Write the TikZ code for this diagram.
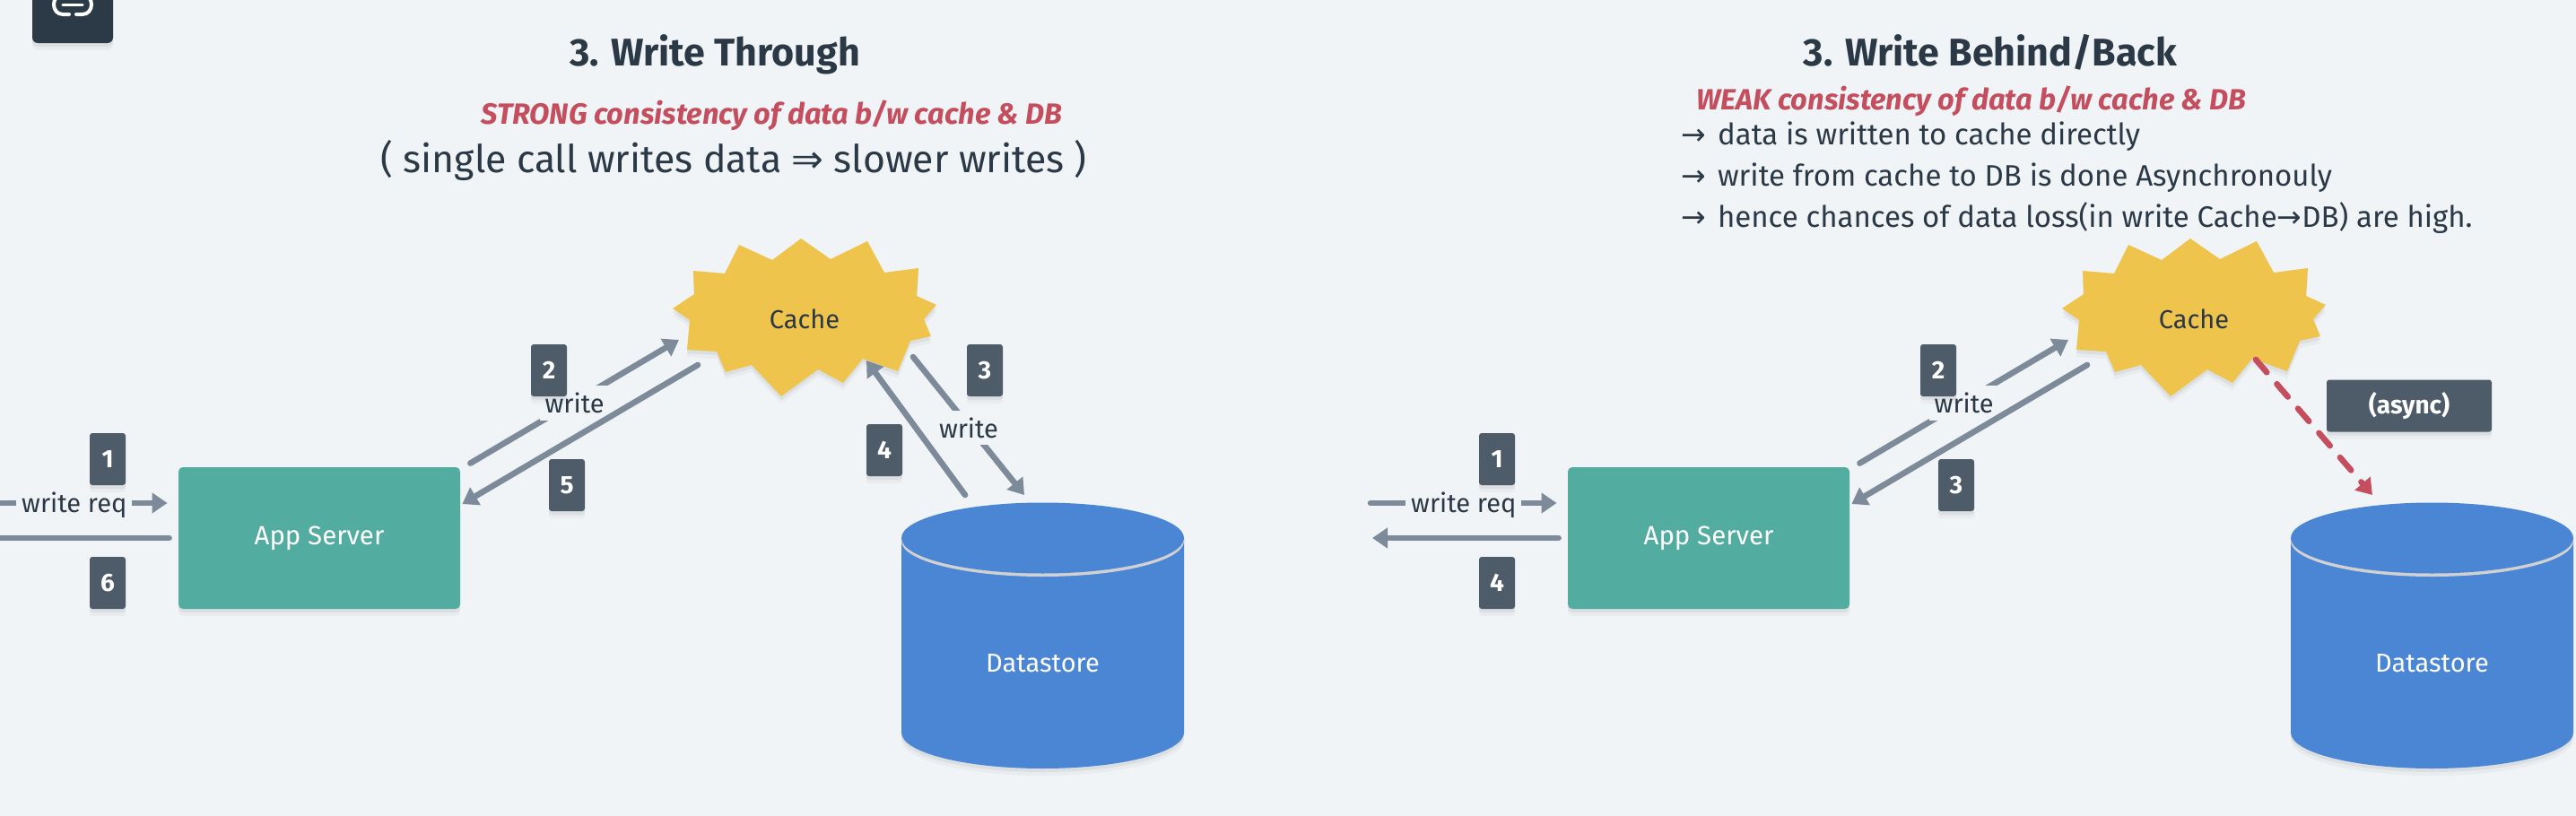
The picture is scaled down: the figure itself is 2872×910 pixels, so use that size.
\documentclass[tikz,border=0pt]{standalone}
\usepackage{fontspec}
\setmainfont{Fira Sans}
\newfontfamily\symfont{DejaVu Sans}
\usetikzlibrary{arrows.meta,shadows}
\definecolor{pagebg}{HTML}{F0F4F7}
\definecolor{inkdark}{HTML}{2B3846}
\definecolor{tabdark}{HTML}{2C3A47}
\definecolor{badgegray}{HTML}{4E5B69}
\definecolor{linegray}{HTML}{7D8A99}
\definecolor{weakred}{HTML}{C44E5E}
\definecolor{appteal}{HTML}{52ACA0}
\definecolor{cacheyellow}{HTML}{EFC44C}
\definecolor{storeblue}{HTML}{4A86D4}
\tikzset{
    softshadow/.style={
        drop shadow={shadow xshift=0pt, shadow yshift=-4pt, opacity=0.03, fill=black},
        drop shadow={shadow xshift=0pt, shadow yshift=-2pt, opacity=0.05, fill=black}},
    flowline/.style={draw=linegray, line width=3.3pt, line cap=round, -{Triangle[length=8.5pt,width=11pt]}},
    asyncline/.style={draw=weakred, line width=3.3pt, line cap=round, dash pattern=on 9.4pt off 8.6pt, -{Triangle[length=8.5pt,width=11pt]}},
    flowlabel/.style={fill=pagebg, text=inkdark, inner xsep=3pt, inner ysep=4pt, font=\fontsize{14.5}{16}\selectfont},
    badge/.style={fill=badgegray, rounded corners=1.5pt, text=white, minimum width=20pt, minimum height=29pt, inner sep=0pt, font=\fontsize{14}{16}\selectfont\bfseries, softshadow},
    appbox/.style={fill=appteal, rounded corners=2.5pt, text=white, minimum width=157pt, minimum height=79pt, inner sep=0pt, font=\fontsize{14.7}{16}\selectfont, softshadow},
    nodetext/.style={inner sep=0pt, font=\fontsize{14.5}{16}\selectfont},
    heading/.style={anchor=base, text=inkdark, font=\fontsize{21.5}{24}\selectfont\bfseries},
    subhead/.style={anchor=base west, inner sep=0pt, text=weakred, font=\fontsize{16.3}{18}\selectfont\bfseries\itshape},
    bullet/.style={anchor=base west, inner sep=0pt, text=inkdark, font=\fontsize{16.5}{18}\selectfont},
}
\begin{document}
\begin{tikzpicture}[x=0.5pt, y=-0.5pt]
    \useasboundingbox (0,0) rectangle (2872,910);
    \clip (0,0) rectangle (2872,910);
    \fill[pagebg] (0,0) rectangle (2872,910);

    % Corner tab
    \fill[tabdark, rounded corners=3pt, softshadow] (36,-20) rectangle (126,48);
    \draw[white, line width=1.7pt, line cap=round] (70,5.5) -- (92,5.5);
    \draw[white, line width=2pt, line cap=round] (77,16) -- (70,16) .. controls (64,16) and (60,11) .. (60,5) .. controls (60,-1) and (64,-6) .. (70,-6);
    \draw[white, line width=2pt, line cap=round] (85,16) -- (92,16) .. controls (98,16) and (102,11) .. (102,5) .. controls (102,-1) and (98,-6) .. (92,-6);

    % Shared parts of both panels
    \foreach \off/\p in {0/a,1549/b} {
        \begin{scope}[shift={(\off,0)}]
            % Cache
            \fill[cacheyellow, softshadow] (893,266) -- (926,289) -- (967,269) -- (986,304) -- (1024,299)
                -- (1022,330) -- (1044,340) -- (1030,356) -- (1038,375) -- (1015,380) -- (1001,414)
                -- (962,400) -- (940,427) -- (912,412) -- (871,442) -- (838,407) -- (809,415)
                -- (799,392) -- (766,390) -- (769,357) -- (750,344) -- (774,328) -- (773,302)
                -- (808,305) -- (824,273) -- (861,290) -- cycle;
            \node[nodetext, text=inkdark] (cache\p) at (897,356) {Cache};

            % Datastore
            \fill[storeblue, softshadow] (1005,600) -- (1005,817)
                .. controls (1005,839) and (1075,857) .. (1162.5,857)
                .. controls (1250,857) and (1320,839) .. (1320,817) -- (1320,600) -- cycle;
            \fill[black!18] (1162.5,603.5) ellipse [x radius=157.5, y radius=39.5];
            \fill[storeblue] (1162.5,600) ellipse [x radius=157.5, y radius=39.5];
            \node[nodetext, text=white] (store\p) at (1162.5,740) {Datastore};

            % App server
            \node[appbox] (app\p) at (356,600) {\raisebox{-2.5pt}{App Server}};

            % Client side
            \coordinate (req\p) at (-21,561);
            \coordinate (res\p) at (-19,600);
            \draw[flowline] (req\p) -- node[flowlabel, yshift=-1pt] {write req} ([shift={(-12,-39)}]app\p.west);
            \draw[flowline] ([shift={(-10,0)}]app\p.west) -- (res\p);

            % App to cache and back
            \draw[flowline] ([shift={(11,-4)}]app\p.north east) -- node[flowlabel, yshift=-1pt] {write} ([shift={(-140,23)}]cache\p.center);
            \draw[flowline] ([shift={(-119,51)}]cache\p.center) -- ([shift={(2,-38)}]app\p.east);
        \end{scope}
    }

    % Write through
    \node[heading] (titlea) at (797,73) {3. Write Through};
    \node[subhead] (notea) at (536,138) {STRONG consistency of data b/w cache \& DB};
    \node[anchor=base west, inner sep=0pt, text=inkdark, font=\fontsize{21.4}{24}\selectfont] (subnotea) at (424,192) {( single call writes data {\symfont ⇒} slower writes )};
    \draw[flowline] ([shift={(121,42)}]cachea.center) -- node[flowlabel, yshift=-1pt] {write} ([shift={(-20.5,-188)}]storea.center);
    \draw[flowline] ([shift={(-86.5,-188)}]storea.center) -- ([shift={(69,46)}]cachea.center);
    \node[badge] (b1a) at (120,512) {1};
    \node[badge] (b2a) at (612,413) {2};
    \node[badge] (b3a) at (1098,413) {3};
    \node[badge] (b4a) at (986,502) {4};
    \node[badge] (b5a) at (632,541) {5};
    \node[badge] (b6a) at (120,650) {6};

    % Write behind
    \node[heading] (titleb) at (2219,73) {3. Write Behind/Back};
    \node[subhead] (noteb) at (1891,122) {WEAK consistency of data b/w cache \& DB};
    \node[bullet] (line1) at (1874,161) {{\symfont →}\hspace{6.5pt}data is written to cache directly};
    \node[bullet] (line2) at (1874,207) {{\symfont →}\hspace{6.5pt}write from cache to DB is done Asynchronouly};
    \node[bullet] (line3) at (1874,253) {{\symfont →}\hspace{6.5pt}hence chances of data loss(in write Cache{\symfont →}DB) are high.};
    \draw[asyncline] ([shift={(69,45)}]cacheb.center) -- ([shift={(-66.5,-188)}]storeb.center);
    \node[badge, minimum width=92pt] (asyncb) at (2686,452.5) {(async)};
    \node[badge] (b1b) at (1669,512) {1};
    \node[badge] (b2b) at (2161,413) {2};
    \node[badge] (b3b) at (2181,541) {3};
    \node[badge] (b4b) at (1669,650) {4};
\end{tikzpicture}
\end{document}
